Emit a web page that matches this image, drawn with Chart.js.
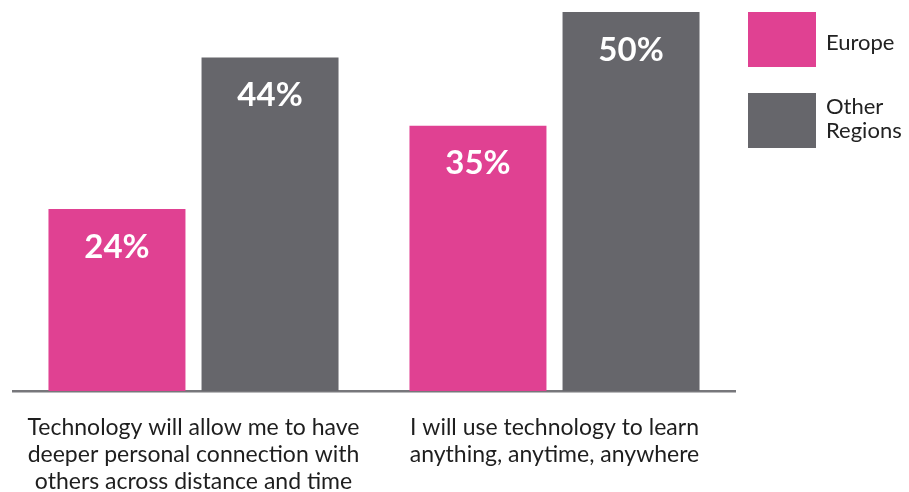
<!DOCTYPE html>
<html>
<head>
<meta charset="utf-8">
<script src="https://cdn.jsdelivr.net/npm/chart.js@4.4.1/dist/chart.umd.min.js"></script>
<style>
  html, body { margin: 0; padding: 0; background: #ffffff; }
  #wrap { position: relative; width: 909px; height: 492px; }
</style>
</head>
<body>
<div id="wrap"><canvas id="chart" width="909" height="492"></canvas></div>
<script>
// Survey statements (multi-line axis labels)
const categories = [
  ["Technology will allow me to have", "deeper personal connection with", "others across distance and time"],
  ["I will use technology to learn", "anything, anytime, anywhere"]
];
const seriesNames = ["Europe", "Other Regions"];
const europeValues = [24, 35];
const otherRegionsValues = [44, 50];
const seriesColors = ["#e04192", "#66666b"];
const yTicks = { min: 0, max: 50 };

const FONT = "Lato, 'Open Sans', sans-serif";

// White percentage labels inside each bar, near its top
const barValueLabels = {
  id: "barValueLabels",
  afterDatasetsDraw(chart) {
    const ctx = chart.ctx;
    ctx.save();
    ctx.fillStyle = "#ffffff";
    ctx.font = "bold 33px " + FONT;
    ctx.textAlign = "center";
    ctx.textBaseline = "middle";
    chart.data.datasets.forEach((ds, i) => {
      chart.getDatasetMeta(i).data.forEach((bar, j) => {
        ctx.fillText(ds.data[j] + "%", bar.x, bar.y + 38);
      });
    });
    ctx.restore();
  }
};

// Legend on the right: colour boxes with labels beside them
const sideLegend = {
  id: "sideLegend",
  afterDraw(chart) {
    const ctx = chart.ctx;
    ctx.save();
    ctx.font = "22px " + FONT;
    ctx.textAlign = "left";
    ctx.textBaseline = "alphabetic";
    const boxX = 748, boxW = 68, boxH = 55, textX = 826;
    const rows = [
      { top: 12, lines: [seriesNames[0]], baselines: [49.5] },
      { top: 93, lines: ["Other", "Regions"], baselines: [114, 137.5] }
    ];
    rows.forEach((r, i) => {
      ctx.fillStyle = chart.data.datasets[i].backgroundColor;
      ctx.fillRect(boxX, r.top, boxW, boxH);
      ctx.fillStyle = "#222222";
      r.lines.forEach((t, k) => ctx.fillText(t, textX, r.baselines[k]));
    });
    ctx.restore();
  }
};

new Chart(document.getElementById("chart"), {
  type: "bar",
  data: {
    labels: categories,
    datasets: [
      { label: seriesNames[0], data: europeValues, backgroundColor: seriesColors[0],
        categoryPercentage: 0.848, barPercentage: 0.895 },
      { label: seriesNames[1], data: otherRegionsValues, backgroundColor: seriesColors[1],
        categoryPercentage: 0.848, barPercentage: 0.895 }
    ]
  },
  options: {
    responsive: false,
    animation: false,
    devicePixelRatio: 1,
    layout: { padding: { left: 13, right: 174, top: 12, bottom: -26 } },
    plugins: { legend: { display: false }, tooltip: { enabled: false } },
    scales: {
      x: {
        grid: { display: false, drawTicks: false },
        border: { display: true, color: "#77777b", width: 2.5 },
        ticks: {
          color: "#1e1e1e",
          font: { family: FONT, size: 23, lineHeight: 27 / 23 },
          padding: 23,
          maxRotation: 0,
          autoSkip: false
        }
      },
      y: {
        display: false,
        min: yTicks.min,
        max: yTicks.max
      }
    }
  },
  plugins: [barValueLabels, sideLegend]
});
</script>
</body>
</html>
